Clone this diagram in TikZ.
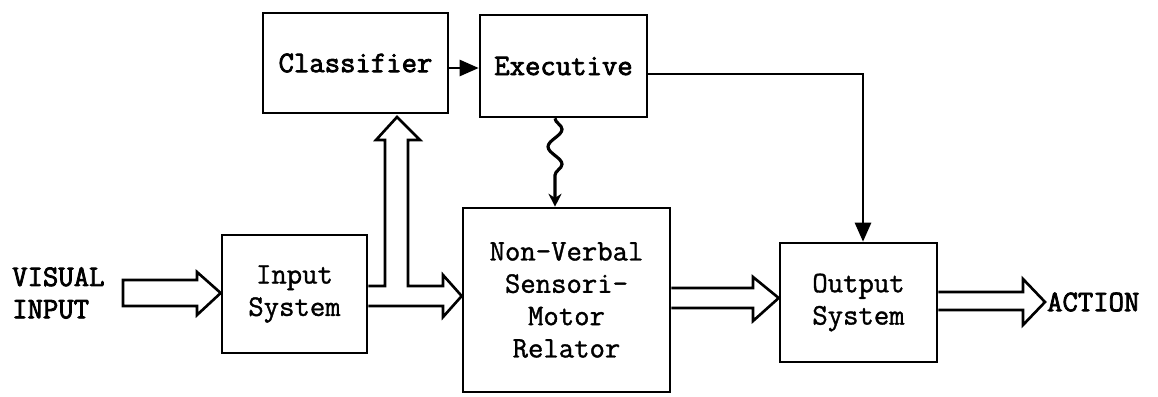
\documentclass[tikz,border=0pt]{standalone}
\usepackage{fontspec}
\setmonofont{Latin Modern Mono}[BoldFont={Latin Modern Mono},BoldFeatures={FakeBold=2.6},UprightFeatures={FakeBold=1.2}]
\usetikzlibrary{arrows.meta,decorations.pathmorphing,calc}
\begin{document}
\begin{tikzpicture}[x=0.02cm,y=-0.02cm,
  every node/.style={font=\ttfamily\fontsize{17}{18.4}\selectfont},
  blk/.style={draw,line width=1.5pt,align=center,inner sep=0pt},
  wire/.style={line width=1.5pt},
  hollow/.style={draw,line width=1.5pt,line join=miter},
  tip/.style={-{Triangle[length=0.38cm,width=0.32cm]}}]
\useasboundingbox (0,0) rectangle (1158,396);
% blocks
\node[blk,minimum width=3.7cm,minimum height=2.0cm] (cls) at (355.5,63) {\bfseries Classifier};
\node[blk,minimum width=3.34cm,minimum height=2.04cm] (exe) at (563.5,66) {\bfseries Executive};
\node[blk,minimum width=2.9cm,minimum height=2.36cm] (inp) at (294.5,294) {Input\\System};
\node[blk,minimum width=4.14cm,minimum height=3.68cm] (rel) at (566.5,300) {Non-Verbal\\Sensori-\\Motor\\Relator};
\node[blk,minimum width=3.14cm,minimum height=2.38cm] (out) at (858.5,302.5) {Output\\System};
% free texts
\node[anchor=west,align=left,font=\ttfamily\bfseries\fontsize{17}{18.4}\selectfont] (vis) at (6,293) {VISUAL\\INPUT};
\node[anchor=west,font=\ttfamily\bfseries\fontsize{17}{18.4}\selectfont,inner sep=1pt] (act) at (1045,302) {ACTION};
% hollow input arrow
\path[hollow] (123,280) -- (197,280) -- (197,272) -- (inp.west |- 0,293) -- (197,315) -- (197,306) -- (123,306) -- cycle;
% split hollow arrow from Input System to Classifier and Relator
\coordinate (up) at (397,117);
\path[hollow] (inp.east |- 0,286) -- (385,286) -- (385,140) -- (376,140) -- (up) -- (420,140) -- (408,140) -- (408,286)
  -- (443,286) -- (443,275) -- (rel.west |- 0,296) -- (443,317) -- (443,306) -- (inp.east |- 0,306);
% hollow arrow Relator -> Output
\path[hollow] (rel.east |- 0,288) -- (753,288) -- (753,277) -- (out.west |- 0,298) -- (753,321) -- (753,308) -- (rel.east |- 0,308);
% hollow arrow Output -> ACTION
\path[hollow] (out.east |- 0,292) -- (1023,292) -- (1023,279) -- (act.west) -- (1023,325) -- (1023,310) -- (out.east |- 0,310);
% Classifier -> Executive
\draw[wire,tip] (cls.east |- 0,68) -- (exe.west |- 0,68);
% Executive -> Output
\coordinate (c1) at (863,74);
\draw[wire,tip] (exe.east |- c1) -- (c1) -- (c1 |- out.north);
% wavy Executive -> Relator
\coordinate (w1) at (555,0);
\draw[line width=1.8pt,-{Stealth[length=0.26cm,width=0.26cm]},decorate,
  decoration={snake,amplitude=0.14cm,segment length=0.7cm,post length=0.3cm}]
  (exe.south -| w1) -- (rel.north -| w1);
\end{tikzpicture}
\end{document}
